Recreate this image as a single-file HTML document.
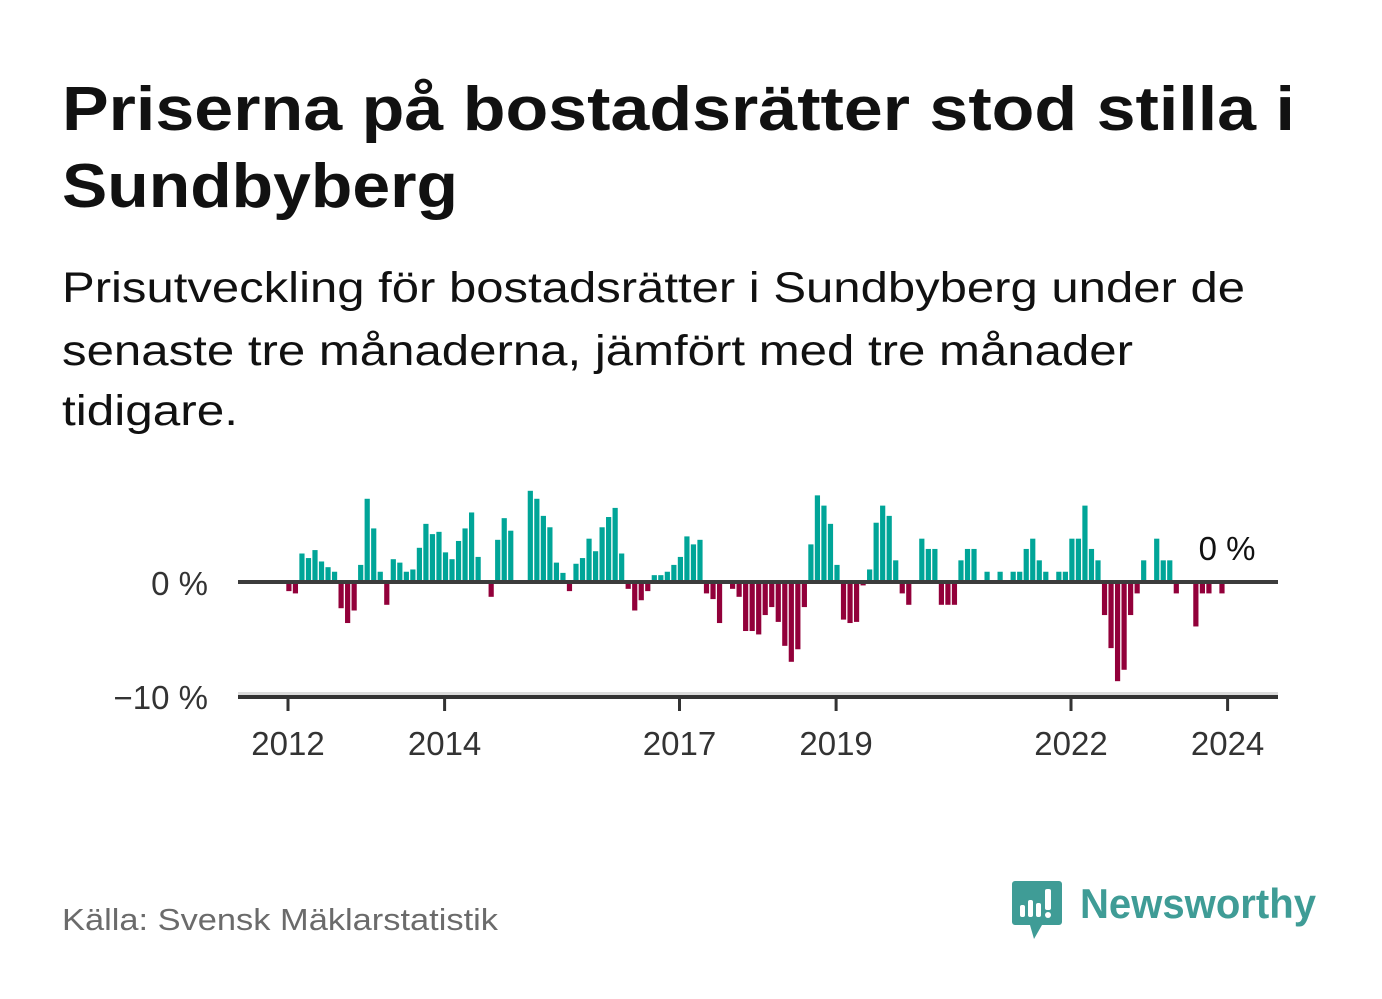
<!DOCTYPE html>
<html><head><meta charset="utf-8"><style>
html,body{margin:0;padding:0;background:#fff;}
svg{display:block;font-family:"Liberation Sans",sans-serif;}
</style></head><body>
<svg id="chart" width="1382" height="999" viewBox="0 0 1382 999">
<text x="62" y="130" font-size="62" font-weight="bold" fill="#111" textLength="1233" lengthAdjust="spacingAndGlyphs">Priserna på bostadsrätter stod stilla i</text>
<text x="62" y="207" font-size="62" font-weight="bold" fill="#111" textLength="396" lengthAdjust="spacingAndGlyphs">Sundbyberg</text>
<text x="62" y="302" font-size="43" fill="#111" textLength="1183" lengthAdjust="spacingAndGlyphs">Prisutveckling för bostadsrätter i Sundbyberg under de</text>
<text x="62" y="365" font-size="43" fill="#111" textLength="1071" lengthAdjust="spacingAndGlyphs">senaste tre månaderna, jämfört med tre månader</text>
<text x="62" y="425" font-size="43" fill="#111" textLength="176" lengthAdjust="spacingAndGlyphs">tidigare.</text>
<g id="plot"></g>
<text x="62" y="930" font-size="31" fill="#6b6b6b" textLength="436" lengthAdjust="spacingAndGlyphs">Källa: Svensk Mäklarstatistik</text>
<g>
<path d="M1015 881 h44 a3 3 0 0 1 3 3 v38 a3 3 0 0 1 -3 3 h-17 l-8 14 l-4 -14 h-15 a3 3 0 0 1 -3 -3 v-38 a3 3 0 0 1 3 -3z" fill="#3f9c96"/>
<rect x="1020" y="905" width="5" height="12" rx="2" fill="#fff"/>
<rect x="1028" y="900" width="5" height="17" rx="2" fill="#fff"/>
<rect x="1036" y="903" width="5" height="14" rx="2" fill="#fff"/>
<rect x="1045" y="889" width="6" height="21" rx="2" fill="#fff"/>
<circle cx="1048" cy="915" r="3" fill="#fff"/>
<text x="1080" y="918" font-size="42" font-weight="bold" fill="#3f9c96" textLength="236" lengthAdjust="spacingAndGlyphs">Newsworthy</text>
</g>
</svg>
<script>
const startYear = 2012;
const values = [
-0.8,-1.0,2.5,2.1,2.8,1.8,1.3,0.9,-2.3,-3.6,-2.5,1.5,
7.3,4.7,0.9,-2.0,2.0,1.7,0.9,1.1,3.0,5.1,4.2,4.4,
2.6,2.0,3.6,4.7,6.1,2.2,0,-1.3,3.7,5.6,4.5,0,
0,8.0,7.3,5.8,4.8,1.7,0.8,-0.8,1.6,2.1,3.8,2.7,
4.8,5.7,6.5,2.5,-0.6,-2.5,-1.6,-0.8,0.6,0.6,0.9,1.5,
2.2,4.0,3.3,3.7,-1.0,-1.5,-3.6,0,-0.6,-1.3,-4.3,-4.3,
-4.6,-2.9,-2.2,-3.5,-5.6,-7.0,-5.9,-2.2,3.3,7.6,6.7,5.1,
1.5,-3.3,-3.6,-3.5,-0.3,1.1,5.2,6.7,5.8,1.9,-1.0,-2.0,
0,3.8,2.9,2.9,-2.0,-2.0,-2.0,1.9,2.9,2.9,0,0.9,
0,0.9,0,0.9,0.9,2.9,3.8,1.9,0.9,0,0.9,0.9,
3.8,3.8,6.7,2.9,1.9,-2.9,-5.8,-8.7,-7.7,-2.9,-1.0,1.9,
0,3.8,1.9,1.9,-1.0,0,0,-3.9,-1.0,-1.0,0,-1.0,
0,0,0
];
const xTicks = [2012, 2014, 2017, 2019, 2022, 2024];
const yTicks = [0, -10];
const yTickLabels = ["0 %", "\u221210 %"];
const lastLabel = "0 %";

const NS = "http://www.w3.org/2000/svg";
const plot = document.getElementById("plot");
const x0 = 288, pxPerYear = 78.3;
const xScale = t => x0 + (t - startYear) * pxPerYear;
const y0 = 582, pxPerPct = 11.4;
const yScale = v => y0 - v * pxPerPct;
function mk(tag, attrs){const e=document.createElementNS(NS,tag);for(const k in attrs)e.setAttribute(k,attrs[k]);plot.appendChild(e);return e;}

// gridline band at -10
const band = mk("rect",{x:238,y:yScale(-10)-4,width:1040,height:3,fill:"#dcdcdc"});



values.forEach((v,i)=>{
  if(v===0) return;
  const xl = xScale(startYear + i/12) - 1.7;
  const top = v>0 ? yScale(v) : y0;
  const h = Math.abs(yScale(v)-y0);
  const r = mk("rect",{x:xl.toFixed(2),y:top.toFixed(2),width:5.2,height:h.toFixed(2),fill:v>0?"#00a598":"#92003a"});
  
  
});

const zl = mk("rect",{x:238,y:y0-2,width:1040,height:4,fill:"#3c3c3c"});


const ax = mk("rect",{x:238,y:yScale(-10)-1,width:1040,height:4,fill:"#333"});



yTicks.forEach((t,i)=>{
  const tx = mk("text",{x:208,y:yScale(t)+13,"font-size":33,fill:"#333","text-anchor":"end"});
  tx.textContent = yTickLabels[i];
  
  
});
xTicks.forEach(t=>{
  const x = xScale(t);
  const tk = mk("rect",{x:x-1.5,y:yScale(-10)+2,width:3,height:13,fill:"#333"});
  
  
  const tx = mk("text",{x:x,y:755,"font-size":33,fill:"#333","text-anchor":"middle"});
  tx.textContent = t;
  
  
});
const ann = mk("text",{x:1227,y:560,"font-size":33,fill:"#111","text-anchor":"middle"});
ann.textContent = lastLabel;


</script>
</body></html>
